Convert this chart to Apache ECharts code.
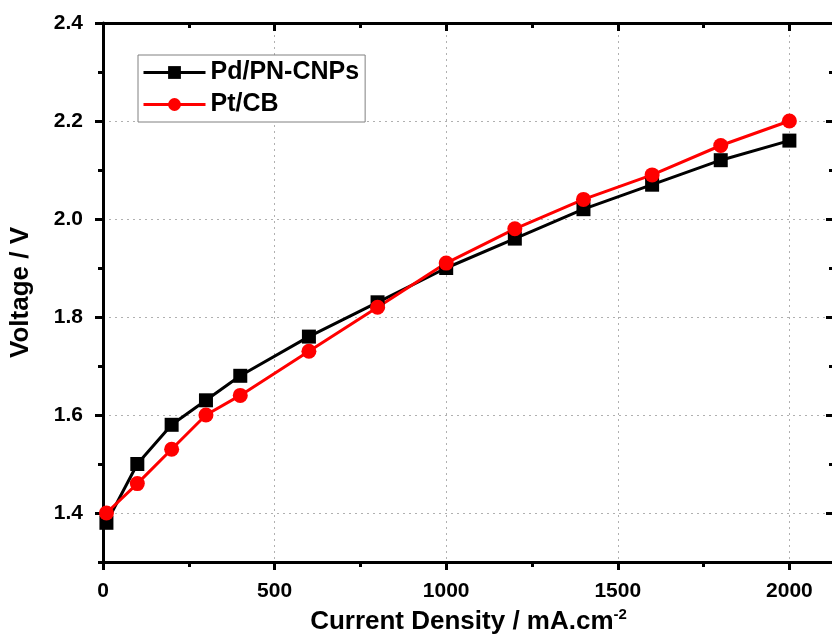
<!DOCTYPE html>
<html>
<head>
<meta charset="utf-8">
<script src="https://cdn.jsdelivr.net/npm/echarts@6/dist/echarts.min.js"></script>
<style>
  html, body { margin: 0; padding: 0; background: #fff; }
  #chart { width: 832px; height: 638px; }
</style>
</head>
<body>
<div id="chart"></div>
<script>
// 数据
var currentDensity = [10, 100, 200, 300, 400, 600, 800, 1000, 1200, 1400, 1600, 1800, 2000];
var pdPnCnps = [1.38, 1.50, 1.58, 1.63, 1.68, 1.76, 1.83, 1.90, 1.96, 2.02, 2.07, 2.12, 2.16];
var ptCb = [1.40, 1.46, 1.53, 1.60, 1.64, 1.73, 1.82, 1.91, 1.98, 2.04, 2.09, 2.15, 2.20];

var xMajor = [0, 500, 1000, 1500, 2000];
var xMinor = [250, 750, 1250, 1750];
var yMajor = [1.4, 1.6, 1.8, 2.0, 2.2, 2.4];
var yMinor = [1.3, 1.5, 1.7, 1.9, 2.1, 2.3];

function pairs(xs, ys) {
    return xs.map(function (x, i) { return [x, ys[i]]; });
}

var font = "'Liberation Sans', Arial, sans-serif";
var black = '#000';

function xAx(pos, ticks, len, inside, main) {
    return {
        type: 'value', position: pos, min: 0, max: 2130,
        axisLine: { show: main, onZero: false, lineStyle: { color: black, width: 3 } },
        axisTick: { show: true, inside: inside, length: len, customValues: ticks, lineStyle: { color: black, width: 3 } },
        axisLabel: {
            show: main && pos === 'bottom', customValues: ticks, margin: 19,
            color: black, fontFamily: font, fontWeight: 'bold', fontSize: 21,
            formatter: function (v) { return String(v); }
        },
        splitLine: { show: main && pos === 'bottom', lineStyle: { color: '#b0b0b0', type: [2, 4], width: 1 } }
    };
}

function yAx(pos, ticks, len, inside, main) {
    return {
        type: 'value', position: pos, min: 1.3, max: 2.4,
        axisLine: { show: main, onZero: false, lineStyle: { color: black, width: 3 } },
        axisTick: { show: true, inside: inside, length: len, customValues: ticks, lineStyle: { color: black, width: 3 } },
        axisLabel: {
            show: main && pos === 'left', customValues: ticks, margin: 20,
            color: black, fontFamily: font, fontWeight: 'bold', fontSize: 21,
            formatter: function (v) { return v.toFixed(1); }
        },
        splitLine: { show: main && pos === 'left', lineStyle: { color: '#b0b0b0', type: [2, 4], width: 1 } }
    };
}

var chart = echarts.init(document.getElementById('chart'));

var xMain = xAx('bottom', xMajor, 8, false, true);
xMain.name = '{t|Current Density / mA.cm}{s|-2}';
xMain.nameLocation = 'middle';
xMain.nameGap = 43;
xMain.nameTextStyle = {
    rich: {
        t: { fontFamily: font, fontWeight: 'bold', fontSize: 26, color: black, lineHeight: 30 },
        s: { fontFamily: font, fontWeight: 'bold', fontSize: 15, color: black, verticalAlign: 'top', lineHeight: 30 }
    }
};

var yMain = yAx('left', yMajor, 8, false, true);
yMain.name = 'Voltage / V';
yMain.nameLocation = 'middle';
yMain.nameGap = 69;
yMain.nameTextStyle = { fontFamily: font, fontWeight: 'bold', fontSize: 26, color: black };

var option = {
    animation: false,
    backgroundColor: '#fff',
    grid: { left: 103, top: 23, width: 731, height: 539, outerBoundsMode: 'none' },
    legend: {
        orient: 'vertical',
        left: 138, top: 55,
        padding: [5, 6, 5, 4],
        itemGap: 7,
        itemWidth: 62,
        itemHeight: 16,
        backgroundColor: '#fff',
        borderColor: '#808080',
        borderWidth: 1,
        lineStyle: { width: 3 },
        textStyle: { fontFamily: font, fontWeight: 'bold', fontSize: 25, color: black },
        data: ['Pd/PN-CNPs', 'Pt/CB']
    },
    xAxis: [
        xMain,
        xAx('bottom', xMinor, 5, false, false),
        xAx('top', xMajor, 8, true, true),
        xAx('top', xMinor, 5, true, false)
    ],
    yAxis: [
        yMain,
        yAx('left', yMinor, 5, false, false),
        yAx('right', yMajor, 8, true, true),
        yAx('right', yMinor, 5, true, false)
    ],
    series: [
        {
            name: 'Pd/PN-CNPs', type: 'line', xAxisIndex: 0, yAxisIndex: 0,
            data: pairs(currentDensity, pdPnCnps),
            symbol: 'rect', symbolSize: 14,
            itemStyle: { color: black },
            lineStyle: { color: black, width: 3 }
        },
        {
            name: 'Pt/CB', type: 'line', xAxisIndex: 0, yAxisIndex: 0,
            data: pairs(currentDensity, ptCb),
            symbol: 'circle', symbolSize: 15,
            itemStyle: { color: '#ff0000' },
            lineStyle: { color: '#ff0000', width: 3 }
        }
    ]
};

chart.setOption(option);
</script>
</body>
</html>
